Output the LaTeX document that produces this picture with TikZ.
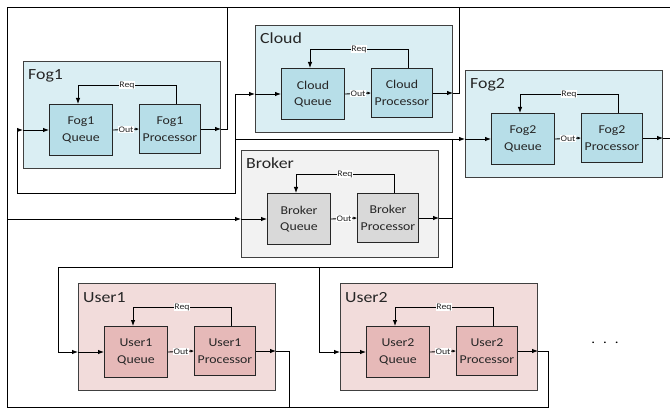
\documentclass[tikz,border=0pt]{standalone}
\usepackage{fontspec}
\setmainfont{Carlito}[FakeStretch=1.15]
\usetikzlibrary{arrows.meta}

\definecolor{fogbg}{HTML}{DAEEF3}
\definecolor{fogfg}{HTML}{B7DEE8}
\definecolor{brkbg}{HTML}{F2F2F2}
\definecolor{brkfg}{HTML}{D9D9D9}
\definecolor{usrbg}{HTML}{F2DCDB}
\definecolor{usrfg}{HTML}{E6B9B8}
\definecolor{edgegray}{HTML}{404040}
\definecolor{inkgray}{HTML}{262626}

\tikzset{
  grpbox/.style={draw=edgegray, line width=1pt, fill=#1bg, minimum width=197pt,
    minimum height=107pt, anchor=north west, inner sep=0pt},
  unitbox/.style={draw=black!85, line width=1pt, fill=#1fg, minimum width=63pt,
    minimum height=51pt, anchor=north west, align=center, inner sep=0pt,
    text=inkgray, font=\fontsize{12}{16.5}\selectfont},
  wire/.style={line width=0.85pt},
  flow/.style={wire, -{Latex[length=6pt,width=4.5pt]}},
  wiretag/.style={fill=white, inner sep=0.6pt, text=inkgray,
    font=\fontsize{8.5}{9}\selectfont},
}

\begin{document}
\begin{tikzpicture}[x=1pt,y=-1pt]
  \useasboundingbox (0,0) rectangle (670,409);

  % one block per entity
  \foreach \nm/\lbl/\gx/\gy/\kind in {fogA/Fog1/23/61/fog, cloud/Cloud/255/25/fog,
      fogB/Fog2/465/70/fog, broker/Broker/241/150/brk,
      userA/User1/78/283/usr, userB/User2/340/283/usr} {
    \node[grpbox=\kind] (\nm) at (\gx,\gy) {};
    \node[anchor=base west, inner sep=0pt, text=inkgray,
      font=\fontsize{15.5}{15.5}\selectfont] (\nm-t) at (\gx+5,\gy+19) {\lbl};
    \node[unitbox=\kind] (\nm-q) at (\gx+26,\gy+43) {\lbl\\Queue};
    \node[unitbox=\kind, minimum width=61pt, minimum height=49pt]
      (\nm-p) at (\gx+116,\gy+43) {\lbl\\Processor};

    \draw[flow] ([xshift=6pt]\nm-p.north) -- ++(0pt,19pt) -| ([xshift=-3pt]\nm-q.north)
      node[pos=0.25, wiretag] {Req};
    \draw[wire, -{Latex[length=3.5pt,width=3pt]}] (\nm-q.east) -- (\nm-p.west)
      node[midway, wiretag] {Out};
    \draw[flow] (\nm-p.east) -- (\nm-p.east -| \nm.east);
    \draw[flow] (\nm-q.west -| \nm.west) -- (\nm-q.west);
  }

  \coordinate (busNW) at (7,7);
  \coordinate (busNE) at (670,7);
  \coordinate (busSW) at (7,407);
  \coordinate (fogNet) at (235,193);
  \coordinate (fogNetL) at (17,193);
  \coordinate (usrNetR) at (452,267);
  \coordinate (usrNetL) at (58,267);
  \coordinate (usrNetM) at (319,267);

  % outputs back to the broker
  \draw[wire] (busNE) -- (busNW) -- (busSW);
  \draw[wire] (fogA-p.east -| fogA.east) -- ++(6pt,0pt) |- (busNW);
  \draw[wire] (cloud-p.east -| cloud.east) -- ++(6pt,0pt) |- (busNW);
  \draw[wire] (fogB-p.east -| fogB.east) -- (fogB-p.east -| busNE);
  \draw[wire] (userA-p.east -| userA.east) -- ++(13pt,0pt) |- (busSW);
  \draw[wire] (userB-p.east -| userB.east) -- ++(10pt,0pt) |- (busSW);
  \draw[flow] (broker-q.west -| busNW) -- (broker-q.west -| broker.west);

  % broker out to fogs, cloud and users
  \draw[wire] (broker-p.east -| broker.east) -- (broker-p.east -| usrNetR);
  \draw[wire] (fogB-q.west -| usrNetR) -- (usrNetR) -- (usrNetL);
  \draw[flow] (usrNetL) |- (userA-q.west -| userA.west);
  \draw[flow] (usrNetM) |- (userB-q.west -| userB.west);
  \draw[flow] (fogB-q.west -| fogNet) -- (fogB-q.west -| fogB.west);
  \draw[flow] (cloud-q.west -| fogNet) -- (cloud-q.west -| cloud.west);
  \draw[wire] (cloud-q.west -| fogNet) -- (fogNet) -- (fogNetL) -- (fogNetL |- fogA-q.west);
  \draw[flow] (fogNetL |- fogA-q.west) -- (fogA-q.west -| fogA.west);

  \node[font=\fontsize{13}{13}\selectfont] (more) at (605,343) {.\hspace{8pt}.\hspace{8pt}.};
\end{tikzpicture}
\end{document}
